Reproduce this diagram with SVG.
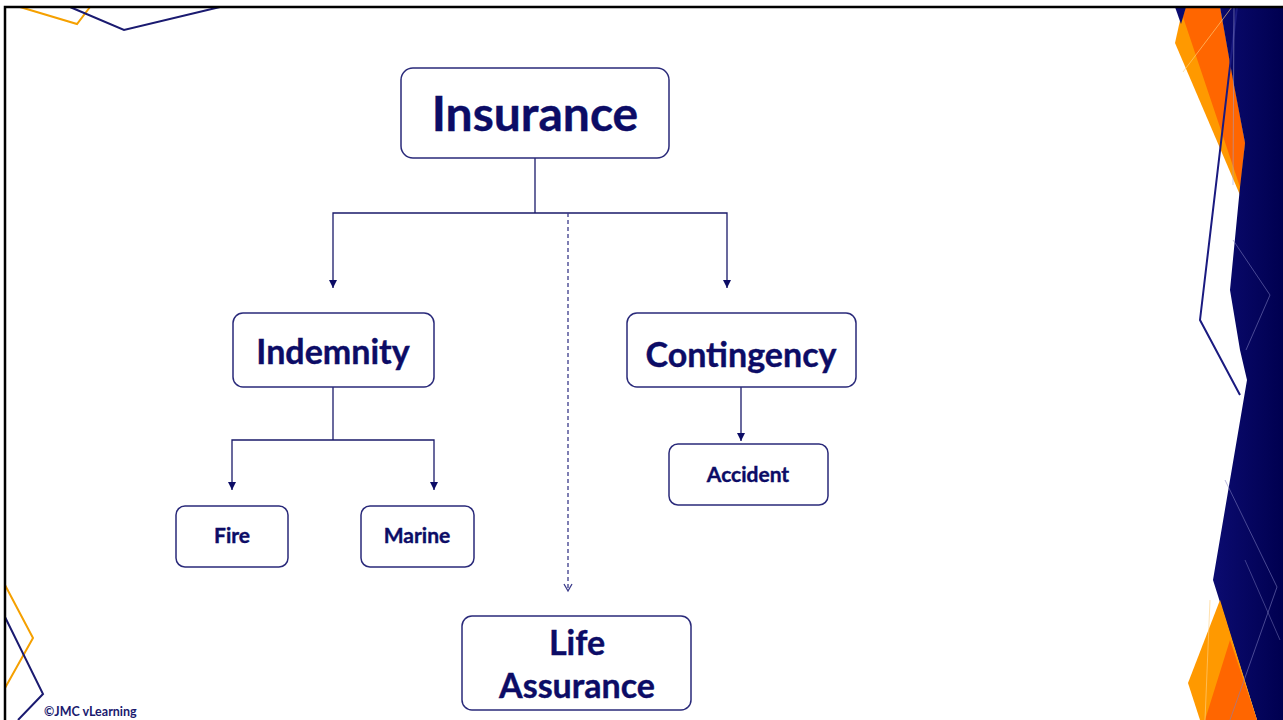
<svg xmlns="http://www.w3.org/2000/svg" width="1283" height="720" viewBox="0 0 1283 720">
<defs>
<style>
.box{fill:#ffffff;stroke:#2a2a7a;stroke-width:1.5}
.t{font-family:Lato,"Liberation Sans",sans-serif;font-weight:bold;fill:#0c0c66;text-anchor:middle;stroke:#0c0c66;stroke-width:0.4}
.c{fill:none;stroke:#1a1a6a;stroke-width:1.3}
.d{fill:none;stroke:#3a3a8a;stroke-width:1.3;stroke-dasharray:4 3}
</style>
<marker id="ah" viewBox="0 0 10 10" refX="10" refY="5" markerWidth="8" markerHeight="8" markerUnits="userSpaceOnUse" orient="auto-start-reverse">
<path d="M0,0 L10,5 L0,10 Z" fill="#0c0c66"/>
</marker>
<linearGradient id="ng" x1="0" y1="0" x2="1" y2="0">
<stop offset="0" stop-color="#0b0b70"/>
<stop offset="1" stop-color="#000050"/>
</linearGradient>
</defs>
<rect width="1283" height="720" fill="#ffffff"/>
<g id="decor">
<polyline points="20,7 77,24 90,7" fill="none" stroke="#f5a000" stroke-width="2"/>
<polyline points="70,7 124,30 220,7" fill="none" stroke="#1a1a70" stroke-width="2"/>
<polyline points="5,585 33,638 5,688" fill="none" stroke="#f5a000" stroke-width="2"/>
<polyline points="5,617 43,694 18,720" fill="none" stroke="#1a1a70" stroke-width="2"/>
<polygon points="1183,7 1175,43 1240,195 1245,143 1220,7" fill="#ff9900"/>
<polygon points="1186,7 1183,17 1240,187 1245,143 1233,80 1220,7" fill="#ff6600"/>
<polygon points="1175,7 1186,7 1181,24" fill="#0b0b70"/>
<polygon points="1220,7 1283,7 1283,720 1257,720 1213,580 1247,380 1240,350 1230,290 1240,187 1245,143 1233,80" fill="url(#ng)"/>
<polygon points="1220,600 1188,683 1200,720 1257,720" fill="#ff9900"/>
<polygon points="1230,640 1205,720 1257,720" fill="#ff6600"/>
<polyline points="1237,7 1200,320 1240,395" fill="none" stroke="#1a1a80" stroke-width="2"/>
<polyline points="1183,72 1232,7" fill="none" stroke="#ffd080" stroke-width="0.8" opacity="0.8"/>
<polyline points="1234,7 1233,185" fill="none" stroke="#a0a0d0" stroke-width="0.8" opacity="0.7"/>
<polyline points="1233,240 1270,295 1246,350" fill="none" stroke="#8080c0" stroke-width="0.8" opacity="0.7"/>
<polyline points="1225,480 1277,587 1230,720" fill="none" stroke="#8080c0" stroke-width="0.8" opacity="0.7"/>
<polyline points="1210,600 1205,720" fill="none" stroke="#ffd080" stroke-width="0.8" opacity="0.8"/>
<polyline points="1245,560 1280,640" fill="none" stroke="#8080c0" stroke-width="0.8" opacity="0.6"/>
<polyline points="5,720 5,7 1283,7" fill="none" stroke="#000000" stroke-width="2.5"/>
</g>
<g id="connectors">
<polyline class="c" points="535,158 535,213"/>
<polyline class="c" points="333,288 333,213 727,213 727,288" marker-start="url(#ah)" marker-end="url(#ah)"/>
<polyline class="d" points="568,213 568,590"/>
<polyline points="564,584 568,591 572,584" fill="none" stroke="#3a3a8a" stroke-width="1.3"/>
<polyline class="c" points="333,387 333,440"/>
<polyline class="c" points="232,490 232,440 434,440 434,490" marker-start="url(#ah)" marker-end="url(#ah)"/>
<polyline class="c" points="741,387 741,441" marker-end="url(#ah)"/>
</g>
<g id="insurance"><rect class="box" x="401" y="68" width="268" height="90" rx="12"/><text class="t" x="535" y="131" font-size="48">Insurance</text></g>
<g id="indemnity"><rect class="box" x="233" y="313" width="201" height="74" rx="10"/><text class="t" x="333" y="364" font-size="34">Indemnity</text></g>
<g id="contingency"><rect class="box" x="627" y="313" width="229" height="74" rx="10"/><text class="t" x="741" y="367" font-size="34">Contingency</text></g>
<g id="fire"><rect class="box" x="176" y="506" width="112" height="61" rx="9"/><text class="t" x="232" y="543" font-size="21">Fire</text></g>
<g id="marine"><rect class="box" x="361" y="506" width="113" height="61" rx="9"/><text class="t" x="417" y="543" font-size="21">Marine</text></g>
<g id="accident"><rect class="box" x="669" y="444" width="159" height="61" rx="9"/><text class="t" x="748" y="482" font-size="21">Accident</text></g>
<g id="life"><rect class="box" x="462" y="616" width="229" height="94" rx="10"/><text class="t" x="577" y="655" font-size="34">Life</text><text class="t" x="577" y="698" font-size="34">Assurance</text></g>
<text x="44" y="716" font-family="Lato,'Liberation Sans',sans-serif" font-weight="bold" font-size="12.5" fill="#1a1a6e">©JMC vLearning</text>
</svg>
